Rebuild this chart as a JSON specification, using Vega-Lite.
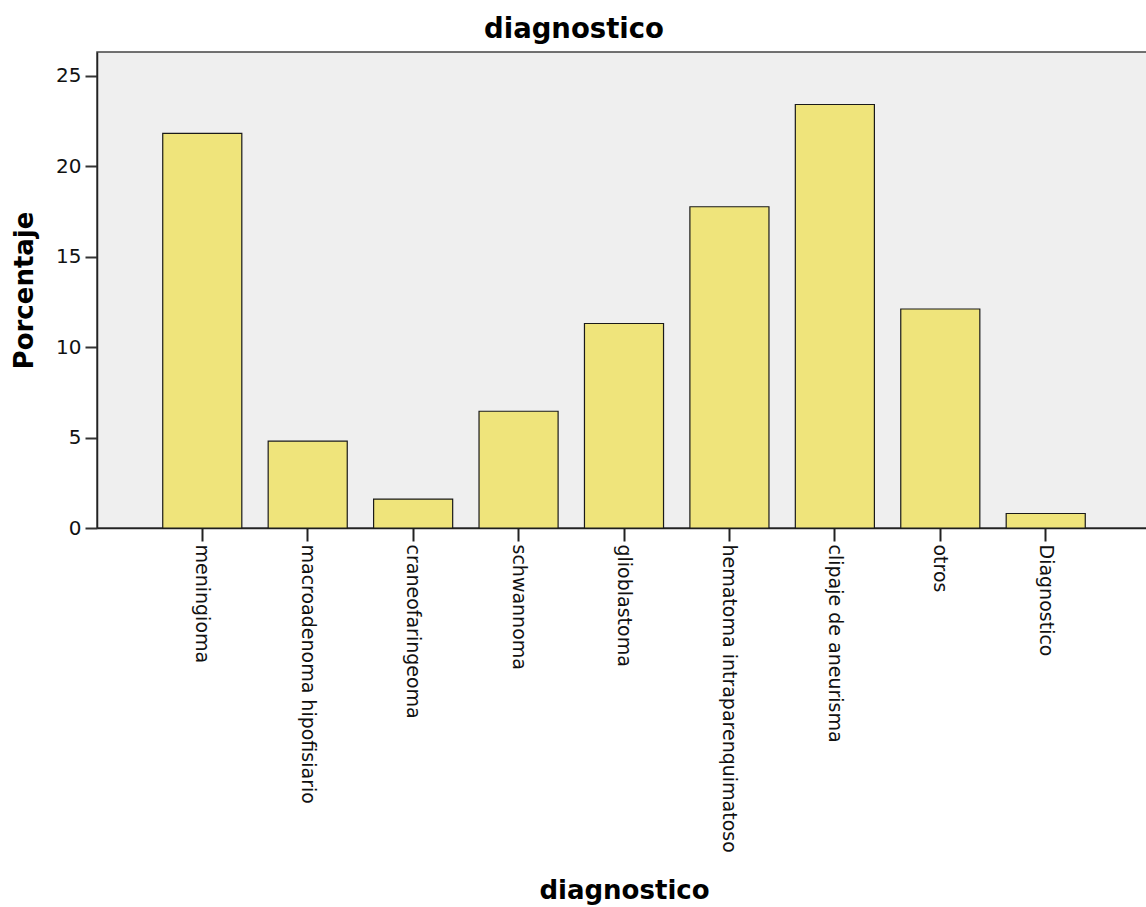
{
  "$schema": "https://vega.github.io/schema/vega-lite/v6.json",
  "autosize": "none",
  "padding": {"left": 97, "top": 52, "right": 0, "bottom": 379},
  "width": 1054,
  "height": 476,
  "background": "white",
  "config": {
    "view": {"fill": "#efefef", "stroke": "#444444", "strokeWidth": 1.5},
    "font": "DejaVu Sans"
  },
  "title": {
    "text": "diagnostico",
    "fontSize": 27.5,
    "fontWeight": "bold",
    "font": "DejaVu Sans",
    "color": "#000000",
    "anchor": "middle",
    "dx": -50,
    "offset": 9
  },
  "data": {
    "values": [
      {"diagnostico": "meningioma", "Porcentaje": 21.8},
      {"diagnostico": "macroadenoma hipofisiario", "Porcentaje": 4.8},
      {"diagnostico": "craneofaringeoma", "Porcentaje": 1.6},
      {"diagnostico": "schwannoma", "Porcentaje": 6.45},
      {"diagnostico": "glioblastoma", "Porcentaje": 11.3},
      {"diagnostico": "hematoma intraparenquimatoso", "Porcentaje": 17.75},
      {"diagnostico": "clipaje de aneurisma", "Porcentaje": 23.4},
      {"diagnostico": "otros", "Porcentaje": 12.1},
      {"diagnostico": "Diagnostico", "Porcentaje": 0.8}
    ]
  },
  "mark": {"type": "bar", "fill": "#efe47b", "stroke": "#1a1a1a", "strokeWidth": 1.2},
  "encoding": {
    "x": {
      "field": "diagnostico",
      "type": "nominal",
      "sort": null,
      "scale": {"paddingInner": 0.25, "paddingOuter": 0.6235},
      "axis": {
        "title": "diagnostico",
        "titleFontSize": 26,
        "titleFontWeight": "bold",
        "titleColor": "#000000",
        "titleFont": "DejaVu Sans",
        "labelAngle": 90,
        "labelAlign": "left",
        "labelBaseline": "middle",
        "labelFontSize": 19,
        "labelColor": "#111111",
        "labelPadding": 3,
        "labelLimit": 400,
        "tickSize": 13,
        "tickWidth": 2,
        "tickColor": "#222222",
        "domainColor": "#222222",
        "domainWidth": 1.5,
        "titleY": 362,
        "titleBaseline": "middle"
      }
    },
    "y": {
      "field": "Porcentaje",
      "type": "quantitative",
      "scale": {"domain": [0, 26.3], "nice": false, "zero": true},
      "axis": {
        "title": "Porcentaje",
        "titleFontSize": 26,
        "titleFontWeight": "bold",
        "titleColor": "#000000",
        "titleFont": "DejaVu Sans",
        "values": [0, 5, 10, 15, 20, 25],
        "labelFontSize": 20,
        "labelColor": "#111111",
        "labelPadding": 4,
        "tickSize": 12,
        "tickWidth": 2,
        "tickColor": "#333333",
        "domainColor": "#222222",
        "domainWidth": 1.5,
        "grid": false,
        "titleX": -73,
        "titleBaseline": "middle"
      }
    }
  }
}
